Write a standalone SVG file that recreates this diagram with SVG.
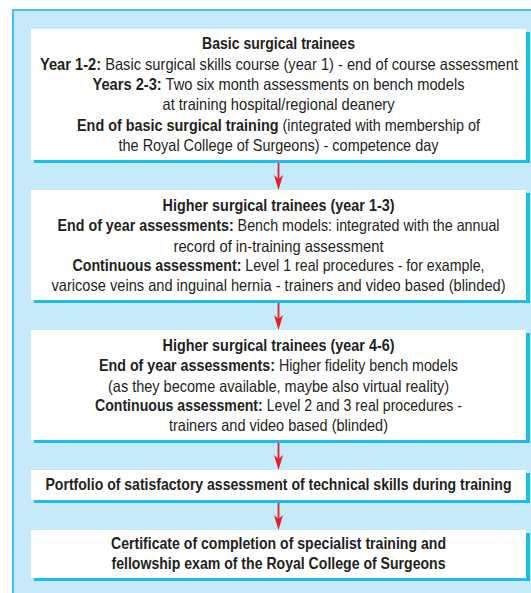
<svg xmlns="http://www.w3.org/2000/svg" width="531" height="593" viewBox="0 0 531 593">
  <defs>
    <!-- barbed red arrowhead; refX sits 10px behind the tip so the stroke stays under the head -->
    <marker id="arrowhead" viewBox="0 0 15 9" refX="5" refY="4.5" markerWidth="15" markerHeight="9" markerUnits="userSpaceOnUse" orient="auto">
      <path d="M0,0 L15,4.5 L0,9 L4,4.5 Z" fill="#e3202b"/>
    </marker>
    <style>
      .panel { fill: #c6eaf9; }
      .panel-edge { stroke: #45c2f0; stroke-width: 2; fill: none; }
      .shadow { fill: #1dbdee; }
      .box { fill: #ffffff; }
      .conn { stroke: #e3202b; stroke-width: 1.8; fill: none; }
      text { font-family: "Liberation Sans", Arial, sans-serif; font-size: 16.5px; fill: #231f20; text-anchor: middle; }
      .b { font-weight: bold; }
    </style>
  </defs>

  <!-- background panel -->
  <rect x="0" y="0" width="531" height="593" fill="#ffffff"/>
  <rect class="panel" x="13" y="10" width="530" height="600"/>
  <path class="panel-edge" d="M13,610 L13,10 L531,10"/>

  <!-- connectors -->
  <g id="connectors">
    <line class="conn" x1="278.5" y1="163" x2="278.5" y2="180" marker-end="url(#arrowhead)"/>
    <line class="conn" x1="278.5" y1="303" x2="278.5" y2="320" marker-end="url(#arrowhead)"/>
    <line class="conn" x1="278.5" y1="443" x2="278.5" y2="460" marker-end="url(#arrowhead)"/>
    <line class="conn" x1="278.5" y1="503" x2="278.5" y2="520" marker-end="url(#arrowhead)"/>
  </g>

  <g id="basic-trainees">
    <rect class="shadow" x="34" y="32" width="496" height="131"/>
    <rect class="box" x="31" y="29" width="495" height="131"/>
    <text x="278.5" y="49" class="b" textLength="153" lengthAdjust="spacingAndGlyphs">Basic surgical trainees</text>
    <text x="279" y="69.5" textLength="478" lengthAdjust="spacingAndGlyphs"><tspan class="b">Year 1-2:</tspan> Basic surgical skills course (year 1) - end of course assessment</text>
    <text x="278.5" y="89.5" textLength="372" lengthAdjust="spacingAndGlyphs"><tspan class="b">Years 2-3:</tspan> Two six month assessments on bench models</text>
    <text x="278.5" y="110" textLength="232" lengthAdjust="spacingAndGlyphs">at training hospital/regional deanery</text>
    <text x="278.5" y="130.5" textLength="403" lengthAdjust="spacingAndGlyphs"><tspan class="b">End of basic surgical training</tspan> (integrated with membership of</text>
    <text x="278.5" y="150.5" textLength="320" lengthAdjust="spacingAndGlyphs">the Royal College of Surgeons) - competence day</text>
  </g>

  <g id="higher-trainees-1-3">
    <rect class="shadow" x="34" y="193" width="496" height="110"/>
    <rect class="box" x="31" y="190" width="495" height="110"/>
    <text x="278.5" y="211" class="b" textLength="232" lengthAdjust="spacingAndGlyphs">Higher surgical trainees (year 1-3)</text>
    <text x="278.5" y="231" textLength="442" lengthAdjust="spacingAndGlyphs"><tspan class="b">End of year assessments:</tspan> Bench models: integrated with the annual</text>
    <text x="278.5" y="251.5" textLength="210" lengthAdjust="spacingAndGlyphs">record of in-training assessment</text>
    <text x="278.5" y="271" textLength="412" lengthAdjust="spacingAndGlyphs"><tspan class="b">Continuous assessment:</tspan> Level 1 real procedures - for example,</text>
    <text x="278.5" y="290.5" textLength="454" lengthAdjust="spacingAndGlyphs">varicose veins and inguinal hernia - trainers and video based (blinded)</text>
  </g>

  <g id="higher-trainees-4-6">
    <rect class="shadow" x="34" y="333" width="496" height="110"/>
    <rect class="box" x="31" y="330" width="495" height="110"/>
    <text x="278.5" y="351" class="b" textLength="232" lengthAdjust="spacingAndGlyphs">Higher surgical trainees (year 4-6)</text>
    <text x="278.5" y="371" textLength="359" lengthAdjust="spacingAndGlyphs"><tspan class="b">End of year assessments:</tspan> Higher fidelity bench models</text>
    <text x="278.5" y="391.5" textLength="341" lengthAdjust="spacingAndGlyphs">(as they become available, maybe also virtual reality)</text>
    <text x="278.5" y="411" textLength="367" lengthAdjust="spacingAndGlyphs"><tspan class="b">Continuous assessment:</tspan> Level 2 and 3 real procedures -</text>
    <text x="278.5" y="430.5" textLength="219" lengthAdjust="spacingAndGlyphs">trainers and video based (blinded)</text>
  </g>

  <g id="portfolio">
    <rect class="shadow" x="34" y="473" width="496" height="30"/>
    <rect class="box" x="31" y="470" width="495" height="30"/>
    <text x="278.5" y="490" class="b" textLength="466" lengthAdjust="spacingAndGlyphs">Portfolio of satisfactory assessment of technical skills during training</text>
  </g>

  <g id="certificate">
    <rect class="shadow" x="34" y="533" width="496" height="48"/>
    <rect class="box" x="31" y="530" width="495" height="48"/>
    <text x="278.5" y="549" class="b" textLength="335" lengthAdjust="spacingAndGlyphs">Certificate of completion of specialist training and</text>
    <text x="278.5" y="569" class="b" textLength="334" lengthAdjust="spacingAndGlyphs">fellowship exam of the Royal College of Surgeons</text>
  </g>
</svg>
